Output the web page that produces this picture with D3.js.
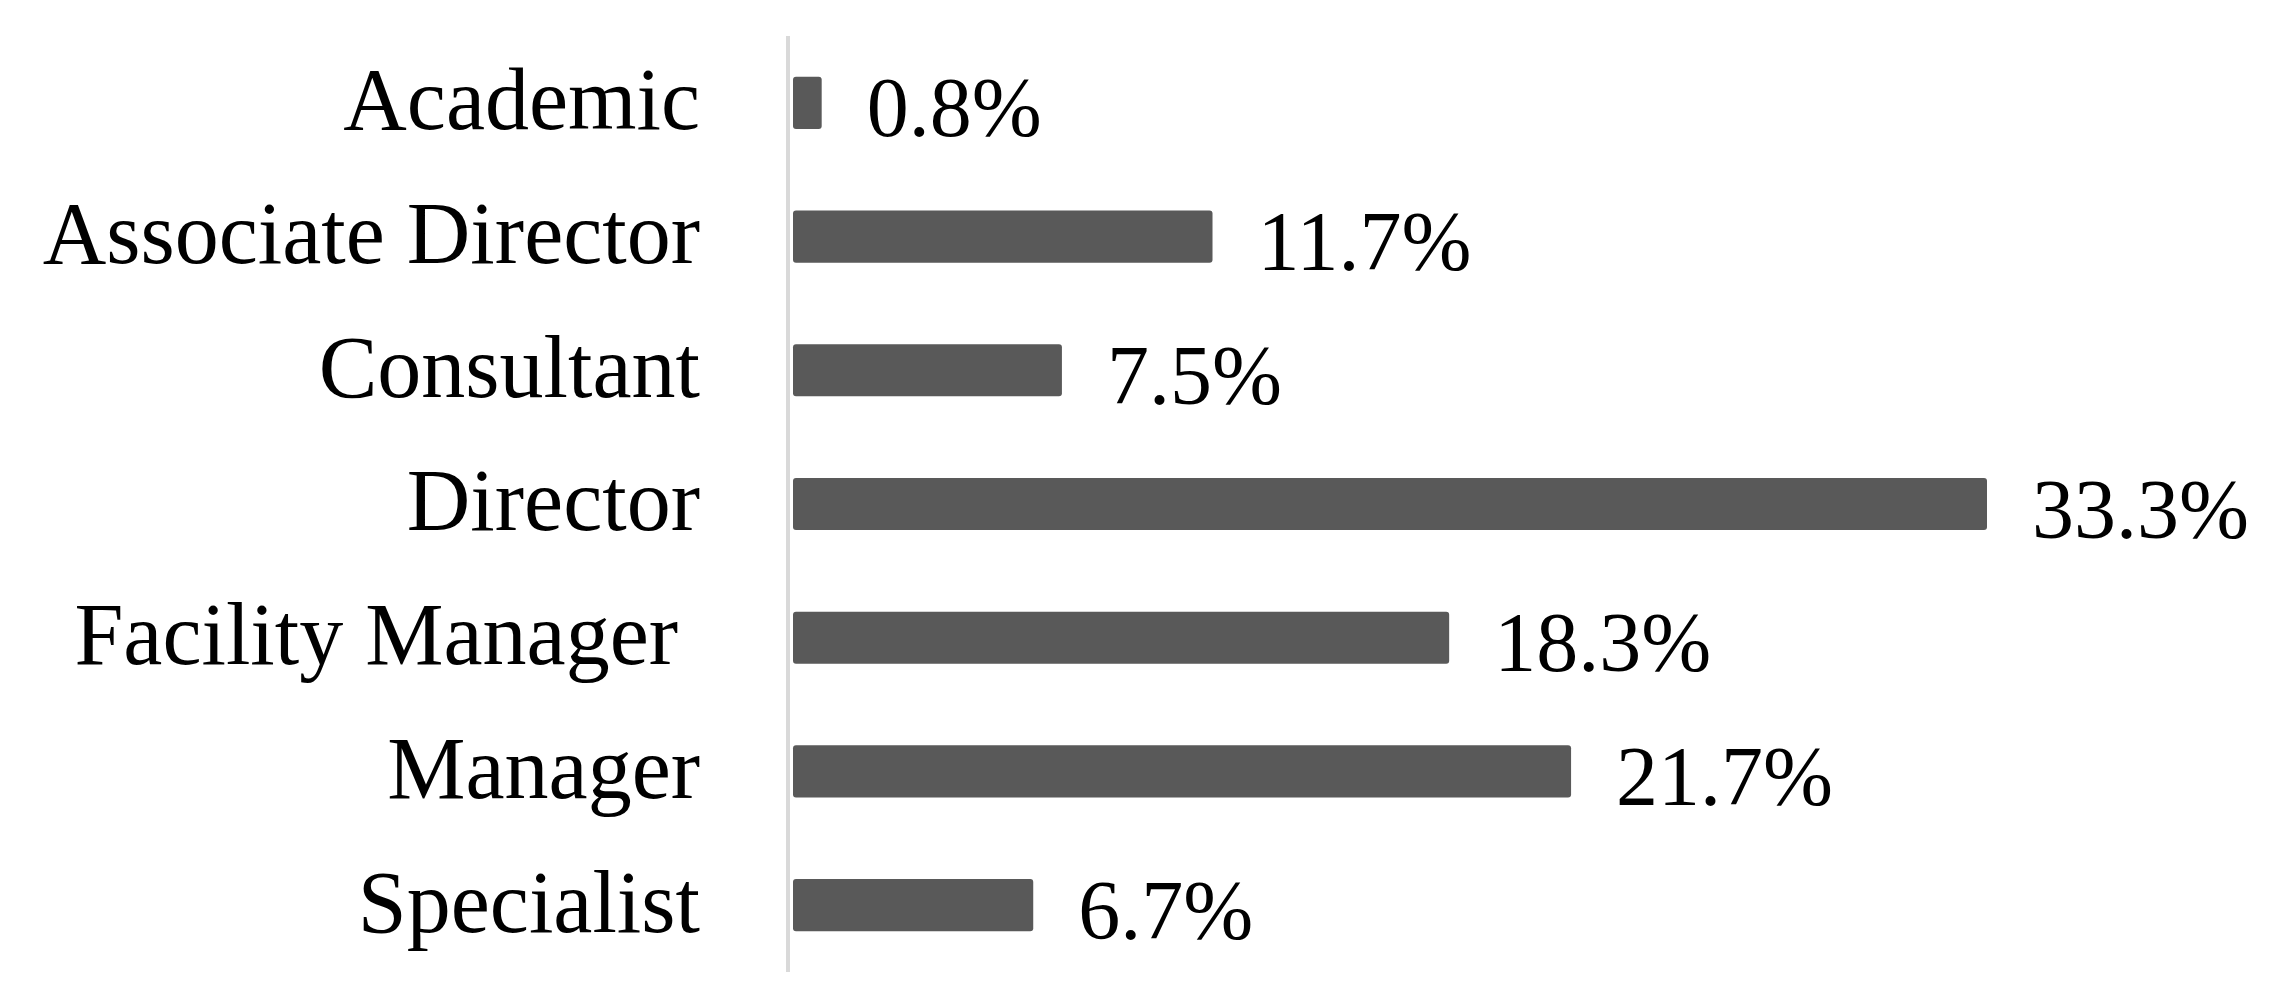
<!DOCTYPE html>
<html>
<head>
<meta charset="utf-8">
<script src="https://cdn.jsdelivr.net/npm/d3@7"></script>
<style>
  body { margin: 0; background: #fff; }
  text { font-family: "Liberation Serif", "DejaVu Serif", serif; fill: #000; }
</style>
</head>
<body>
<div id="chart"></div>
<script>
var width = 2282,
    height = 1004,
    margin = {top: 36, bottom: 32, left: 793, right: 0};

var roles = ["Academic", "Associate Director", "Consultant", "Director", "Facility Manager ", "Manager", "Specialist"];
var shares = [0.8, 11.7, 7.5, 33.3, 18.3, 21.7, 6.7];
var shareLabels = ["0.8%", "11.7%", "7.5%", "33.3%", "18.3%", "21.7%", "6.7%"];

var data = roles.map(function(r, i) { return {role: r, value: shares[i], label: shareLabels[i]}; });

var svg = d3.select("#chart")
    .append("svg")
    .attr("width", width)
    .attr("height", height);

// 33.3% ends near x=1987
var x = d3.scaleLinear()
    .domain([0, 33.3])
    .range([margin.left, 1987]);

var y = d3.scaleBand()
    .domain(roles)
    .range([margin.top, height - margin.bottom])
    .paddingInner(0.61)
    .paddingOuter(0.305);

var fs = 84;

// bars
svg.append("g")
    .selectAll("rect")
    .data(data)
    .join("rect")
    .attr("x", x(0))
    .attr("y", function(d) { return y(d.role); })
    .attr("width", function(d) { return x(d.value) - x(0); })
    .attr("height", y.bandwidth())
    .attr("rx", 3)
    .attr("fill", "#595959");

// vertical axis line
svg.append("line")
    .attr("x1", x(0) - 5)
    .attr("x2", x(0) - 5)
    .attr("y1", margin.top)
    .attr("y2", height - margin.bottom)
    .attr("stroke", "#d9d9d9")
    .attr("stroke-width", 4);

// category labels
svg.append("g")
    .selectAll("text")
    .data(data)
    .join("text")
    .attr("x", 700)
    .attr("y", function(d) { return y(d.role) + y.bandwidth() / 2; })
    .attr("dy", "0.3em")
    .attr("text-anchor", "end")
    .style("white-space", "pre")
    .style("font-size", "88px")
    .text(function(d) { return d.role; });

// value labels
svg.append("g")
    .selectAll("text")
    .data(data)
    .join("text")
    .attr("x", function(d) { return x(d.value) + 45; })
    .attr("y", function(d) { return y(d.role) + y.bandwidth() / 2; })
    .attr("dy", "0.4em")
    .style("font-size", fs + "px")
    .text(function(d) { return d.label; });
</script>
</body>
</html>
